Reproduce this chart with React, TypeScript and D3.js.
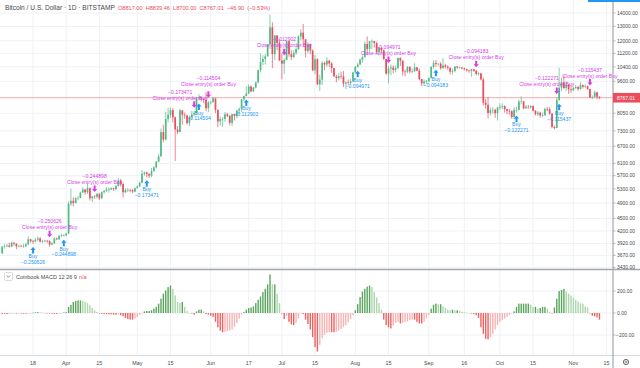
import React from 'react';
import * as d3 from 'd3';

// daily BTC/USD, Bitstamp, Mar 5 2019 .. Nov 12 2019 (open = previous close)
const startDate = new Date(Date.UTC(2019, 2, 5));
const firstOpen = 3710;

const closes = [
  // Mar
  3850, 3860, 3875, 3850, 3935, 3915, 3860, 3870, 3860, 3860, 3900, 4010, 3970, 3960, 4000, 4030, 3960, 3970, 3980, 3970, 3895, 3920, 4030, 4010, 4090, 4100, 4100,
  // Apr
  4140, 4880, 4960, 4900, 5030, 5040, 5190, 5280, 5200, 5320, 5030, 5080, 5070, 5150, 5030, 5200, 5240, 5280, 5280, 5320, 5290, 5380, 5550, 5440, 5200, 5270, 5270, 5260, 5220, 5320,
  // May
  5370, 5480, 5760, 5800, 5750, 5700, 5840, 5970, 6160, 6340, 7250, 6960, 7790, 7980, 8190, 7870, 7360, 7260, 8180, 7980, 7950, 7620, 7880, 7990, 8060, 8730, 8790, 8720, 8660, 8270, 8550,
  // Jun
  8560, 8740, 8200, 7690, 7800, 7800, 8000, 7930, 7630, 8010, 7920, 8170, 8240, 8690, 8850, 8980, 9330, 9080, 9280, 9540, 10210, 10680, 10860, 11020, 11760, 12930, 11160, 12370, 11870, 10760,
  // Jul
  10580, 10800, 11980, 11150, 10980, 11230, 11470, 12300, 12560, 12110, 11350, 11800, 11370, 10200, 10850, 9440, 9690, 10630, 10530, 10760, 10590, 10330, 9860, 9770, 9880, 9860, 9480, 9540, 9510, 9590, 10080,
  // Aug
  10400, 10530, 10820, 10970, 11800, 11470, 11980, 11990, 11860, 11290, 11560, 11390, 10860, 10020, 10300, 10360, 10220, 10330, 10920, 10760, 10130, 10120, 10400, 10140, 10140, 10370, 10180, 9720, 9490, 9590, 9600,
  // Sep
  9770, 10390, 10630, 10570, 10580, 10320, 10480, 10400, 10340, 10120, 10160, 10420, 10360, 10360, 10310, 10260, 10190, 10160, 10270, 10180, 9990, 10030, 9700, 8530, 8430, 8060, 8180, 8200, 8050, 8300,
  // Oct
  8340, 8380, 8230, 8150, 8140, 7880, 8200, 8200, 8580, 8590, 8270, 8340, 8310, 8370, 8160, 8000, 8070, 7950, 7960, 8240, 8220, 8030, 7460, 7420, 8660, 9260, 9550, 9250, 9430, 9180, 9140,
  // Nov
  9250, 9300, 9200, 9400, 9310, 9340, 9200, 8770, 8810, 9030, 8814, 8767.01,
];

const highs = [
  3870, 3900, 3910, 3940, 3960, 3950, 3920, 3890, 3890, 3910, 3930, 4080, 4020, 4000, 4040, 4070, 4060, 4000, 4000, 3995, 3990, 3950, 4050, 4050, 4100, 4140, 4120,
  4160, 4950, 5300, 5060, 5060, 5100, 5220, 5340, 5280, 5460, 5340, 5100, 5120, 5180, 5180, 5230, 5270, 5350, 5340, 5340, 5330, 5420, 5630, 5600, 5480, 5310, 5320, 5290, 5290, 5340,
  5400, 5520, 5880, 5840, 5830, 5780, 5950, 6000, 6180, 6430, 7400, 7550, 8100, 8300, 8300, 8280, 7900, 7500, 8250, 8090, 8080, 7990, 7940, 8150, 8160, 8800, 8940, 8800, 8720, 9050, 8620,
  8620, 8820, 8740, 8210, 7900, 7880, 8100, 8060, 7980, 8020, 8030, 8200, 8310, 8700, 8880, 9330, 9440, 9380, 9300, 9580, 10230, 11200, 11090, 11170, 11800, 13880, 13300, 12400, 12370, 12150,
  11180, 10900, 12000, 12000, 11400, 11400, 11580, 12380, 12800, 13180, 12110, 11900, 11800, 11450, 11100, 10900, 9950, 10740, 10700, 10970, 10800, 10680, 10340, 9950, 10040, 10130, 10160, 9580, 9700, 9730, 10120,
  10450, 10650, 10900, 11080, 11950, 12300, 12000, 12100, 12000, 11940, 11600, 11550, 11450, 10870, 10450, 10540, 10480, 10470, 10950, 10960, 10780, 10250, 10430, 10420, 10300, 10610, 10380, 10300, 9720, 9690, 9670,
  9800, 10450, 10780, 10800, 10620, 10670, 10920, 10580, 10490, 10380, 10290, 10450, 10440, 10400, 10380, 10360, 10290, 10240, 10290, 10260, 10200, 10080, 10050, 9800, 8710, 8800, 8300, 8330, 8250, 8330,
  8500, 8500, 8400, 8240, 8240, 8180, 8320, 8340, 8680, 8840, 8620, 8420, 8420, 8420, 8400, 8180, 8140, 8120, 8080, 8300, 8330, 8320, 8050, 7520, 8800, 10350, 9800, 9900, 9600, 9450, 9380,
  9300, 9400, 9360, 9550, 9440, 9450, 9370, 9220, 8880, 9110, 9060, 8839.46,
];

const lows = [
  3700, 3810, 3840, 3830, 3845, 3870, 3800, 3830, 3840, 3830, 3850, 3890, 3940, 3910, 3950, 3970, 3940, 3930, 3950, 3930, 3850, 3880, 3910, 3990, 3990, 4060, 4070,
  4080, 4130, 4820, 4810, 4890, 4990, 5030, 5190, 5130, 5150, 4970, 4930, 5010, 5020, 4980, 5010, 5160, 5210, 5190, 5260, 5240, 5260, 5370, 5370, 5050, 5180, 5210, 5200, 5170, 5200,
  5310, 5360, 5460, 5700, 5650, 5620, 5650, 5830, 5940, 6130, 6330, 6850, 6920, 7640, 7850, 7650, 6178, 7170, 7230, 7550, 7800, 7560, 7490, 7800, 7920, 8030, 8630, 8590, 8500, 8130, 8100,
  8450, 8520, 8050, 7450, 7520, 7450, 7680, 7880, 7530, 7500, 7730, 7820, 8000, 8100, 8600, 8830, 8950, 9040, 9040, 9230, 9500, 10070, 10500, 10530, 11010, 11480, 10320, 10800, 11400, 10750,
  9700, 10000, 10800, 11000, 10800, 10900, 11110, 11400, 12050, 11600, 10950, 11200, 11150, 10150, 9980, 9400, 9100, 9400, 10200, 10400, 10380, 10050, 9850, 9550, 9650, 9720, 9300, 9200, 9400, 9430, 9560,
  10070, 10340, 10500, 10630, 10950, 11100, 11300, 11470, 11570, 11200, 11050, 11210, 10800, 9950, 9500, 9930, 10040, 10090, 10260, 10450, 9900, 9870, 10040, 10030, 10040, 10130, 10150, 9650, 9350, 9350, 9460,
  9570, 9760, 10300, 10400, 10460, 10230, 10300, 10300, 10230, 9970, 9960, 10080, 10270, 10300, 10250, 10200, 10130, 10060, 9850, 10110, 9920, 9900, 9650, 8400, 8250, 7820, 7950, 8020, 7850, 7730,
  8200, 8230, 8080, 8000, 7980, 7800, 7780, 8080, 8160, 8450, 8220, 8250, 8250, 8250, 8120, 7950, 7920, 7850, 7880, 7920, 8140, 7980, 7400, 7350, 7400, 8620, 9080, 9180, 9100, 8950, 9000,
  9080, 9190, 9100, 9160, 9220, 9240, 9150, 8760, 8700, 8750, 8700, 8700,
];

// Coinbook MACD 12 26 9 histogram
const macdHist = [
  -8, -8, -10, -8, -6, -5, -5, -3, -5, -6, -6, -5, -3, 3, 6, 8, 5, 3, 2, -3, -5, -6, -8, -8, -5, -3, 5,
  8, 55, 75, 100, 110, 115, 115, 112, 100, 90, 70, 45, 25, 10, -5, -8, -10, -10, -12, -12, -15, -15, -12, -20, -30, -45, -55, -60, -60, -50,
  -35, -15, -5, 15, 18, 18, 25, 40, 55, 85, 130, 175, 205, 235, 250, 220, 160, 100, 90, 100, 55, 18, 0, -5, -15, 15, 30, 30, 15, -10, -15,
  -25, -35, -80, -130, -160, -175, -170, -165, -160, -150, -125, -90, -50, -15, 10, 30, 45, 50, 60, 90, 120, 150, 190, 220, 260, 350, 260, 260, 175, 90,
  -5, -55, -30, -80, -105, -110, -90, -50, -5, -10, -60, -100, -150, -220, -310, -350, -290, -230, -200, -180, -175, -175, -175, -170, -160, -145, -130, -110, -85, -55, -20,
  25, 80, 145, 195, 220, 240, 250, 235, 190, 140, 90, 30, -60, -110, -130, -140, -115, -90, -80, -95, -90, -80, -75, -65, -60, -60, -80, -95, -95, -80, -50,
  -20, 40, 75, 85, 80, 80, 60, 45, 30, 25, 30, 25, 25, 20, 12, 8, 3, 0, -5, -10, -20, -45, -130, -190, -235, -240, -220, -190, -150, -110,
  -80, -65, -50, -35, -20, -5, 15, 55, 85, 85, 85, 85, 85, 75, 55, 55, 40, 45, 55, 55, 40, 10, -5, 50, 130, 200, 210, 220, 195, 175, 160,
  140, 120, 105, 90, 85, 60, 50, -3, -25, -30, -40, -60,
];

const priceTicks = [14000, 13000, 12000, 11200, 10400, 9600, 8050, 7300, 6700, 6100, 5700, 5300, 4900, 4500, 4200, 3920, 3670, 3430];
const macdTicks = [200, 0, -200];
const dateTicks = ['2019-03-18', '2019-04-01', '2019-04-15', '2019-05-01', '2019-05-15', '2019-06-01', '2019-06-17', '2019-07-01', '2019-07-15', '2019-08-01', '2019-08-15', '2019-09-01', '2019-09-16', '2019-10-01', '2019-10-15', '2019-11-01', '2019-11-15'];
const dateLabels = ['18', 'Apr', '15', 'May', '15', 'Jun', '17', 'Jul', '15', 'Aug', '15', 'Sep', '16', 'Oct', '15', 'Nov', '15'];

// strategy signals (bar index from Mar 5)
const buyIdx = [13, 26, 61, 83, 103, 150, 183, 217, 235];
const buyLabels = ['−0.250626', '−0.244898', '−0.173471', '−0.114504', '−0.112902', '−0.094971', '−0.094183', '−0.122271', '−0.115437'];
const closeIdx = [20, 39, 81, 87, 119, 163, 200, 234, 248];
const closeLabels = ['−0.250626', '−0.244898', '−0.173471', '−0.114504', '−0.112902', '−0.094971', '−0.094183', '−0.122271', '−0.115437'];
// label nudges where the reference spreads crowded labels apart
const closeShift = [0, 0, -14, 0, 0, 0, 0, -10, 0];
const closeLift = [0, 0, 0, 4, 0, 0, 0, 0, 0];

const lastPrice = 8767.01;

const UP = '#53b987';
const DOWN = '#eb4d5c';
const GRID = '#eef1f6';
const TXT = '#4a4a4a';
const BLUE = '#2196f3';
const PURPLE = '#d63ce8';
const FONT = '"Liberation Sans", Arial, sans-serif';

const W = 640;
const H = 368;
const axisX = 613;

export default function App() {
  const n = closes.length;
  const dates = d3.range(n).map((i) => d3.utcDay.offset(startDate, i));
  const x = d3.scaleUtc().domain([dates[0], dates[n - 1]]).range([2.2, 2.2 + 2.37 * (n - 1)]);
  const y = d3.scaleLog().domain([3430, 14000]).range([267.6, 13]);
  const ym = d3.scaleLinear().domain([-200, 200]).range([335, 291]);

  const bars = closes.map((c, i) => {
    const o = i === 0 ? firstOpen : closes[i - 1];
    return { o, c, h: Math.max(highs[i], o, c), l: Math.min(lows[i], o, c), d: dates[i] };
  });

  const upArrow = (cx: number, tip: number) =>
    `M${cx},${tip} L${cx + 2.6},${tip + 3} L${cx + 1},${tip + 3} L${cx + 1},${tip + 6.5} L${cx - 1},${tip + 6.5} L${cx - 1},${tip + 3} L${cx - 2.6},${tip + 3} Z`;
  const downArrow = (cx: number, tip: number) =>
    `M${cx},${tip} L${cx + 2.6},${tip - 3} L${cx + 1},${tip - 3} L${cx + 1},${tip - 6.5} L${cx - 1},${tip - 6.5} L${cx - 1},${tip - 3} L${cx - 2.6},${tip - 3} Z`;

  const lastY = y(lastPrice);

  return (
    <svg width={W} height={H} style={{ position: 'fixed', left: 0, top: 0, background: '#fff' }} fontFamily={FONT}>
      <rect width={W} height={H} fill="#fff" />

      {/* grid */}
      {dateTicks.map((t) => {
        const gx = x(new Date(t + 'T00:00:00Z'));
        return <line key={'vg' + t} x1={gx} x2={gx} y1={0} y2={355} stroke={GRID} strokeWidth={1} />;
      })}
      {priceTicks.map((p) => (
        <line key={'hg' + p} x1={0} x2={axisX} y1={y(p)} y2={y(p)} stroke={GRID} strokeWidth={1} />
      ))}
      {macdTicks.map((m) => (
        <line key={'mg' + m} x1={0} x2={axisX} y1={ym(m)} y2={ym(m)} stroke={GRID} strokeWidth={1} />
      ))}

      {/* last price line */}
      <line x1={0} x2={axisX} y1={lastY} y2={lastY} stroke="#f5a9ae" strokeWidth={1} />

      {/* candles */}
      {bars.map((b, i) => {
        const cx = x(b.d);
        const col = b.c >= b.o ? UP : DOWN;
        const top = y(Math.max(b.o, b.c));
        const bot = y(Math.min(b.o, b.c));
        return (
          <g key={'c' + i}>
            <line x1={cx} x2={cx} y1={y(b.h)} y2={y(b.l)} stroke={col} strokeWidth={0.7} />
            <rect x={cx - 0.85} y={top} width={1.7} height={Math.max(0.6, bot - top)} fill={col} />
          </g>
        );
      })}

      {/* strategy signals */}
      {closeIdx.map((ci, k) => {
        const cx = x(dates[ci]);
        const tx = cx + closeShift[k];
        const tip = y(bars[ci].h) - 3;
        const ty = tip - closeLift[k];
        return (
          <g key={'cl' + k} fill={PURPLE}>
            <path d={downArrow(cx, tip)} />
            <text x={tx} y={ty - 8} fontSize={5.1} textAnchor="middle">Close entry(s) order Buy</text>
            <text x={tx} y={ty - 14} fontSize={5.1} textAnchor="middle">{closeLabels[k]}</text>
          </g>
        );
      })}
      {buyIdx.map((bi, k) => {
        const cx = x(dates[bi]);
        const tip = y(bars[bi].l) + 3;
        return (
          <g key={'b' + k} fill={BLUE}>
            <path d={upArrow(cx, tip)} />
            <text x={cx} y={tip + 11} fontSize={5.1} textAnchor="middle">Buy</text>
            <text x={cx} y={tip + 16.8} fontSize={5.1} textAnchor="middle">{buyLabels[k]}</text>
          </g>
        );
      })}

      {/* macd histogram */}
      {macdHist.map((v, i) => {
        const prev = i === 0 ? 0 : macdHist[i - 1];
        let col;
        if (v >= 0) col = v >= prev ? '#5aa55e' : '#acd6ab';
        else col = v <= prev ? '#ef6262' : '#f7b4b4';
        const cx = x(dates[i]);
        const y0 = ym(0);
        const y1 = ym(v);
        return <rect key={'m' + i} x={cx - 0.7} y={Math.min(y0, y1)} width={1.4} height={Math.max(0.5, Math.abs(y1 - y0))} fill={col} />;
      })}

      {/* pane frames */}
      <line x1={0} x2={W} y1={269.5} y2={269.5} stroke="#a3a6af" strokeWidth={1.4} />
      <line x1={0} x2={W} y1={355.5} y2={355.5} stroke="#d6d9e0" strokeWidth={1} />
      <line x1={axisX} x2={axisX} y1={0} y2={H} stroke="#a3a6af" strokeWidth={1.2} />
      <rect x={588} y={0} width={52} height={2} fill={BLUE} />

      {/* price axis */}
      {priceTicks.map((p) => (
        <g key={'pt' + p}>
          <line x1={axisX} x2={axisX + 2.5} y1={y(p)} y2={y(p)} stroke="#a3a6af" strokeWidth={0.8} />
          <text x={617} y={y(p) + 1.8} fontSize={5} fill={TXT}>{d3.format('.2f')(p)}</text>
        </g>
      ))}
      <rect x={axisX} y={lastY - 4.8} width={W - axisX} height={9.6} fill={DOWN} />
      <text x={617} y={lastY + 1.8} fontSize={5} fill="#fff">{d3.format('.2f')(lastPrice)}</text>

      {/* macd axis */}
      {macdTicks.map((m) => (
        <g key={'mt' + m}>
          <line x1={axisX} x2={axisX + 2.5} y1={ym(m)} y2={ym(m)} stroke="#a3a6af" strokeWidth={0.8} />
          <text x={m < 0 ? 616 : 617} y={ym(m) + 1.8} fontSize={5} fill={TXT}>{d3.format('.2f')(m).replace('-', '−')}</text>
        </g>
      ))}

      {/* time axis */}
      {dateTicks.map((t, k) => (
        <text key={'dt' + t} x={x(new Date(t + 'T00:00:00Z'))} y={364.5} fontSize={5.4} fill={TXT} textAnchor="middle">{dateLabels[k]}</text>
      ))}
      <circle cx={626} cy={362} r={2.6} fill="none" stroke="#555" strokeWidth={0.9} />
      <circle cx={626} cy={362} r={1} fill="none" stroke="#555" strokeWidth={0.6} />

      {/* legends */}
      <text x={5} y={10} fontSize={6.6} fill={TXT}>Bitcoin / U.S. Dollar · 1D · BITSTAMP</text>
      <text x={118} y={10} fontSize={5.6} fill={DOWN} style={{ whiteSpace: 'pre' }}>
        O8817.00  H8839.46  L8700.00  C8767.01  −46.90  (−0.53%)
      </text>
      <rect x={4.5} y={272.5} width={8} height={8} rx={1.2} fill="#fff" stroke="#c9ccd4" strokeWidth={0.7} />
      <path d="M6.8,275.6 L8.5,277.3 L10.2,275.6" fill="none" stroke="#555" strokeWidth={0.7} />
      <text x={16} y={278.6} fontSize={5.5} fill={TXT}>Coinbook MACD 12 26 9</text>
      <text x={79} y={278.6} fontSize={5.5} fill={DOWN}>n/a</text>
    </svg>
  );
}
